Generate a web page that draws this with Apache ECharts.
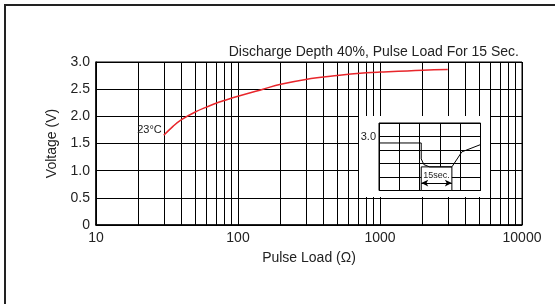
<!DOCTYPE html>
<html><head><meta charset="utf-8">
<script src="https://cdn.jsdelivr.net/npm/echarts@6/dist/echarts.min.js"></script>
<style>html,body{margin:0;padding:0;background:#fff}#c{width:555px;height:304px}</style>
</head><body><div id="c"></div>
<script>
// main curve
const loads = [30, 35, 40, 50, 60, 70, 80, 100, 150, 200, 300, 500, 800, 1000, 2000, 3000];
const volts = [1.65, 1.82, 1.94, 2.08, 2.17, 2.24, 2.29, 2.37, 2.50, 2.59, 2.68, 2.75, 2.80, 2.815, 2.85, 2.86];
const minorGrid = [20,30,40,50,60,70,80,90,200,300,400,500,600,700,800,900,2000,3000,4000,5000,6000,7000,8000,9000];
const yTicks = ['0','0.5','1.0','1.5','2.0','2.5','3.0'];
// inset pulse trace (grid units 0..5)
const traceX = [0, 2.08, 2.08, 2.21, 2.49, 3.59, 4.08, 5];
const traceY = [3.52, 3.52, 2.34, 1.92, 1.75, 1.75, 2.86, 3.40];
const pulseStart = 2.08, pulseEnd = 3.59, pulseLevel = 1.75, arrowY = 0.55;
const insetLabelVal = 4, insetLabel = '3.0';

const font = 'Liberation Sans, Arial, sans-serif';
const chart = echarts.init(document.getElementById('c'), null, {renderer:'canvas'});
chart.setOption({
  animation:false,
  backgroundColor:'#fff',
  textStyle:{fontFamily:font},
  title:{text:'Discharge Depth 40%, Pulse Load For 15 Sec.', right:31, top:40,
    textStyle:{fontSize:14, fontWeight:'normal', color:'#222', fontFamily:font}},
  graphic:{elements:[{type:'rect', z:0, shape:{x:5,y:5,width:700,height:400},
    style:{fill:'none', stroke:'#222', lineWidth:2}}]},
  grid:[
    {left:96, top:62, width:426, height:163, show:true, borderColor:'#000', borderWidth:1, z:0},
    {left:359, top:116, width:131, height:81, show:true, backgroundColor:'#fff', borderWidth:0, z:2},
    {left:379, top:123, width:101.5, height:67.5, show:true, backgroundColor:'#fff', borderColor:'#000', borderWidth:1, z:3}
  ],
  xAxis:[
    {type:'log', logBase:10, min:10, max:10000, gridIndex:0, z:0,
     name:'Pulse Load (Ω)', nameLocation:'middle', nameGap:26,
     nameTextStyle:{fontSize:14, color:'#222', fontFamily:font},
     axisLine:{lineStyle:{color:'#000', width:1.5}}, axisTick:{show:false},
     axisLabel:{fontSize:14, color:'#222', margin:6, fontFamily:font, formatter:(v)=>String(Math.round(v))},
     splitLine:{show:true, lineStyle:{color:'#000', width:1}}},
    {type:'value', min:0, max:5, interval:1, gridIndex:2, z:4,
     axisLine:{show:false}, axisTick:{show:false}, axisLabel:{show:false},
     splitLine:{show:true, lineStyle:{color:'#000', width:1}}}
  ],
  yAxis:[
    {type:'value', min:0, max:3, interval:0.5, gridIndex:0, z:0,
     name:'Voltage (V)', nameLocation:'middle', nameGap:30, nameRotate:90,
     nameTextStyle:{fontSize:14, color:'#222', fontFamily:font},
     axisLine:{show:true, lineStyle:{color:'#000', width:1.5}}, axisTick:{show:false},
     axisLabel:{fontSize:14, color:'#222', margin:6, fontFamily:font,
       formatter:(v)=>yTicks[Math.round(v*2)]},
     splitLine:{show:true, lineStyle:{color:'#000', width:1}}},
    {type:'value', min:0, max:5, interval:1, gridIndex:2, z:4,
     axisLine:{show:false}, axisTick:{show:false},
     axisLabel:{show:true, fontSize:11, color:'#222', margin:3, fontFamily:font,
       formatter:(v)=> v===insetLabelVal ? insetLabel : ''},
     splitLine:{show:true, lineStyle:{color:'#000', width:1}}}
  ],
  series:[
    {type:'line', xAxisIndex:0, yAxisIndex:0, z:1, data:[], silent:true,
     markLine:{silent:true, z:1, symbol:'none', animation:false, label:{show:false},
       lineStyle:{color:'#000', width:1, type:'solid'},
       data:minorGrid.map(v=>({xAxis:v}))}},
    {type:'line', xAxisIndex:0, yAxisIndex:0, z:6, smooth:0.4, showSymbol:false, symbol:'none',
     lineStyle:{color:'#e8262b', width:1.5},
     data:loads.map((l,i)=>[l,volts[i]]),
     markPoint:{symbol:'circle', symbolSize:0, silent:true,
       label:{show:true, position:'left', distance:2, offset:[0,-5], fontSize:11, color:'#222', fontFamily:font, formatter:'23°C'},
       data:[{coord:[loads[0], volts[0]]}]}},
    {type:'line', xAxisIndex:1, yAxisIndex:1, z:7, showSymbol:false, symbol:'none',
     lineStyle:{color:'#000', width:1},
     data:traceX.map((x,i)=>[x,traceY[i]]),
     markArea:{silent:true, z:6,
       itemStyle:{color:'#fff', borderColor:'#000', borderWidth:1},
       label:{show:true, position:'inside', offset:[0,-3], fontSize:9, color:'#222', fontFamily:font,
         overflow:'none', width:60, formatter:'15sec.'},
       data:[[{coord:[pulseStart,0]},{coord:[pulseEnd,pulseLevel]}]]},
     markLine:{silent:true, z:7, symbol:['arrow','arrow'], symbolSize:[5,7], label:{show:false},
       lineStyle:{color:'#000', width:1, type:'solid'},
       data:[[{coord:[pulseStart,arrowY]},{coord:[pulseEnd,arrowY]}]]}}
  ]
});
</script></body></html>
